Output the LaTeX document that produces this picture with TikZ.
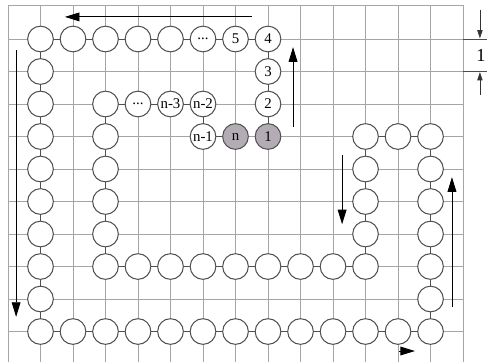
\documentclass[tikz,border=0pt]{standalone}
\usepackage{fontspec}
\setmainfont{Liberation Serif}
\usepackage{tikz}
\usetikzlibrary{arrows.meta, backgrounds}
\definecolor{gridgray}{RGB}{165,165,165}
\definecolor{ringgray}{RGB}{80,80,80}
\definecolor{headgray}{RGB}{180,172,180}
\tikzset{
  cell/.style={circle, draw=ringgray, fill=white,
    minimum size=0.79cm, inner sep=0pt, line width=0.9pt,
    font=\fontsize{13}{13}\selectfont},
  headcell/.style={cell, fill=headgray},
  gridline/.style={color=gridgray, line width=0.6pt},
  link/.style={color=ringgray, line width=0.7pt},
  arrow/.style={-{Triangle[length=0.45cm, width=0.27cm]}, line width=0.8pt, color=black},
  dimarrow/.style={-{Triangle[length=0.25cm, width=0.16cm]}, line width=0.6pt, color=black!80},
  dimline/.style={line width=0.7pt, color=black!70}
}

\begin{document}
\begin{tikzpicture}
  \clip (-1.246,1.2) rectangle (13.738,-9.938);

  % Plain cells
  \foreach \c in {0,...,4} \node[cell] (c\c-0) at (\c,0) {};
  \foreach \r in {1,...,9} \node[cell] (c0-\r) at (0,-\r) {};
  \foreach \c in {1,...,12} \node[cell] (c\c-9) at (\c,-9) {};
  \foreach \r in {3,...,8} \node[cell] (c12-\r) at (12,-\r) {};
  \foreach \c in {10,11} \node[cell] (c\c-3) at (\c,-3) {};
  \foreach \r in {4,...,7} \node[cell] (c10-\r) at (10,-\r) {};
  \foreach \c in {2,...,9} \node[cell] (c\c-7) at (\c,-7) {};
  \foreach \r in {2,...,6} \node[cell] (c2-\r) at (2,-\r) {};

  % Labelled cells
  \node[cell] (c5-0) at (5,0) {...};
  \node[cell] (c6-0) at (6,0) {5};
  \node[cell] (c7-0) at (7,0) {4};
  \node[cell] (c7-1) at (7,-1) {3};
  \node[cell] (c7-2) at (7,-2) {2};
  \node[headcell] (c7-3) at (7,-3) {1};
  \node[headcell] (c6-3) at (6,-3) {n};
  \node[cell] (c5-3) at (5,-3) {n-1};
  \node[cell] (c5-2) at (5,-2) {n-2};
  \node[cell] (c4-2) at (4,-2) {n-3};
  \node[cell] (c3-2) at (3,-2) {...};

  \begin{scope}[on background layer]
    % Draw grid
    \foreach \x in {-1,...,13}
      \draw[gridline] (\x,1.05) -- (\x,-10);
    \foreach \y in {1.05,0,-1,...,-9}
      \draw[gridline] (-1,\y) -- (13,\y);
    % Chain through the cells
    \draw[link] (c7-3.center) -- (c7-0.center) -- (c0-0.center)
      -- (c0-9.center) -- (c12-9.center) -- (c12-3.center)
      -- (c10-3.center) -- (c10-7.center) -- (c2-7.center)
      -- (c2-2.center) -- (c5-2.center) -- (c5-3.center) -- (c6-3.center);
  \end{scope}

  % Direction arrows
  \coordinate (topA) at (6.5,0.68);   \coordinate (topB) at (0.75,0.68);
  \coordinate (leftA) at (-0.75,-0.34); \coordinate (leftB) at (-0.75,-8.55);
  \coordinate (upA) at (7.77,-2.7);   \coordinate (upB) at (7.77,-0.25);
  \coordinate (downA) at (9.28,-3.57); \coordinate (downB) at (9.28,-5.7);
  \coordinate (rightA) at (12.66,-8.25); \coordinate (rightB) at (12.66,-4.25);
  \coordinate (botA) at (11.03,-9.6);  \coordinate (botB) at (11.52,-9.6);
  \draw[arrow] (topA) -- (topB);
  \draw[arrow] (leftA) -- (leftB);
  \draw[arrow] (upA) -- (upB);
  \draw[arrow] (downA) -- (downB);
  \draw[arrow] (rightA) -- (rightB);
  \draw[arrow] (botA) -- (botB);

  % Unit spacing
  \coordinate (dimT) at (13,0);  \coordinate (dimTR) at (13.8,0);
  \coordinate (dimB) at (13,-1); \coordinate (dimBR) at (13.8,-1);
  \draw[dimline] (dimT) -- (dimTR);
  \draw[dimline] (dimB) -- (dimBR);
  \coordinate (dimA) at (13.52,0.9);  \coordinate (dimAe) at (13.52,0.02);
  \coordinate (dimC) at (13.52,-1.72); \coordinate (dimCe) at (13.52,-1.02);
  \draw[dimarrow] (dimA) -- (dimAe);
  \draw[dimarrow] (dimC) -- (dimCe);
  \node[font=\fontsize{16}{16}\selectfont] (unit) at (13.55,-0.5) {1};
\end{tikzpicture}
\end{document}
